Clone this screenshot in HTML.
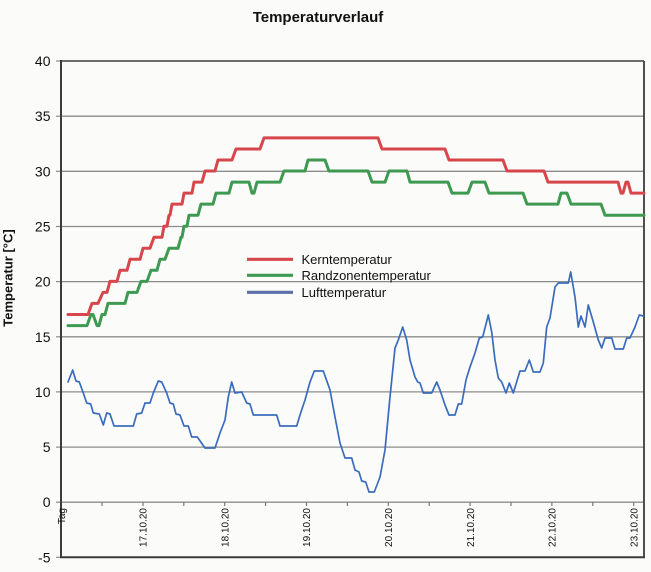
<!DOCTYPE html>
<html>
<head>
<meta charset="utf-8">
<style>
html,body{margin:0;padding:0;background:#fbfbfa;}
svg{display:block;}
text{font-family:"Liberation Sans",Arial,sans-serif;fill:#111;}
</style>
</head>
<body>
<svg width="651" height="572" viewBox="0 0 651 572" xmlns="http://www.w3.org/2000/svg">
<rect x="0" y="0" width="651" height="572" fill="#fbfbfa"/>
<!-- title -->
<text x="318" y="22" text-anchor="middle" font-size="15" font-weight="bold">Temperaturverlauf</text>
<!-- y axis label -->
<text transform="translate(12.5,278) rotate(-90)" text-anchor="middle" font-size="13" font-weight="bold">Temperatur [°C]</text>

<!-- grid lines -->
<g stroke="#8c8c8c" stroke-width="1.3">
<line x1="61" y1="116.2" x2="644" y2="116.2"/>
<line x1="61" y1="171.3" x2="644" y2="171.3"/>
<line x1="61" y1="226.5" x2="644" y2="226.5"/>
<line x1="61" y1="281.6" x2="644" y2="281.6"/>
<line x1="61" y1="336.8" x2="644" y2="336.8"/>
<line x1="61" y1="391.9" x2="644" y2="391.9"/>
<line x1="61" y1="447.1" x2="644" y2="447.1"/>
<line x1="61" y1="502.2" x2="644" y2="502.2"/>
</g>
<!-- y ticks -->
<g stroke="#8c8c8c" stroke-width="1.2">
<line x1="56" y1="61" x2="61" y2="61"/>
<line x1="56" y1="116.2" x2="61" y2="116.2"/>
<line x1="56" y1="171.3" x2="61" y2="171.3"/>
<line x1="56" y1="226.5" x2="61" y2="226.5"/>
<line x1="56" y1="281.6" x2="61" y2="281.6"/>
<line x1="56" y1="336.8" x2="61" y2="336.8"/>
<line x1="56" y1="391.9" x2="61" y2="391.9"/>
<line x1="56" y1="447.1" x2="61" y2="447.1"/>
<line x1="56" y1="502.2" x2="61" y2="502.2"/>
<line x1="56" y1="557.3" x2="61" y2="557.3"/>
</g>
<!-- x ticks -->
<g stroke="#777" stroke-width="1.2">
<line x1="61" y1="502" x2="61" y2="506"/>
<line x1="102" y1="502" x2="102" y2="506"/>
<line x1="143" y1="502" x2="143" y2="506"/>
<line x1="183.8" y1="502" x2="183.8" y2="506"/>
<line x1="224.7" y1="502" x2="224.7" y2="506"/>
<line x1="265.6" y1="502" x2="265.6" y2="506"/>
<line x1="306.5" y1="502" x2="306.5" y2="506"/>
<line x1="347.4" y1="502" x2="347.4" y2="506"/>
<line x1="388.3" y1="502" x2="388.3" y2="506"/>
<line x1="429.2" y1="502" x2="429.2" y2="506"/>
<line x1="470.1" y1="502" x2="470.1" y2="506"/>
<line x1="511" y1="502" x2="511" y2="506"/>
<line x1="551.9" y1="502" x2="551.9" y2="506"/>
<line x1="592.8" y1="502" x2="592.8" y2="506"/>
<line x1="633.7" y1="502" x2="633.7" y2="506"/>
</g>
<!-- frame -->
<g stroke="#3c3c3c" fill="none">
<line x1="61" y1="61" x2="644" y2="61" stroke-width="1.6"/>
<line x1="644" y1="61" x2="644" y2="557.3" stroke-width="1.8"/>
<line x1="61" y1="60" x2="61" y2="558" stroke-width="2"/>
<line x1="60" y1="557.3" x2="645" y2="557.3" stroke-width="2"/>
</g>

<!-- y tick labels -->
<g font-size="14" text-anchor="end">
<text x="50.5" y="66">40</text>
<text x="50.5" y="121.2">35</text>
<text x="50.5" y="176.3">30</text>
<text x="50.5" y="231.5">25</text>
<text x="50.5" y="286.6">20</text>
<text x="50.5" y="341.8">15</text>
<text x="50.5" y="396.9">10</text>
<text x="50.5" y="452.1">5</text>
<text x="50.5" y="507.2">0</text>
<text x="50.5" y="562.3">-5</text>
</g>
<!-- x labels -->
<g font-size="10" text-anchor="end">
<text transform="translate(65,508) rotate(-90)">Tag</text>
<text transform="translate(146.7,508) rotate(-90)">17.10.20</text>
<text transform="translate(228.4,508) rotate(-90)">18.10.20</text>
<text transform="translate(310.2,508) rotate(-90)">19.10.20</text>
<text transform="translate(392,508) rotate(-90)">20.10.20</text>
<text transform="translate(473.8,508) rotate(-90)">21.10.20</text>
<text transform="translate(555.6,508) rotate(-90)">22.10.20</text>
<text transform="translate(637.4,508) rotate(-90)">23.10.20</text>
</g>

<!-- series -->
<g fill="none" stroke-linejoin="round" stroke-linecap="round">
<polyline stroke="#d6464a" stroke-width="3" points="
68,314.5 88,314.5 92,303.4 98,303.4 103,292.4 107,292.4 110,281.4 117,281.4 120,270.3 127,270.3 130,259.3 140,259.3 143,248.3 150,248.3 154,237.2 162,237.2 164,226.2 167,226.2 169,215.2 170,215.2 172,204.1 182,204.1 184,193.1 192,193.1 194,182.1 202,182.1 205,171 215,171 218,160 232,160 236,149 260,149 264,137.9 378,137.9 382,149 445,149 449,160 503,160 507,171 544,171 548,182.1 618,182.1 621,193.1 623,193.1 626,182.1 628,182.1 631,193.1 644,193.1"/>
<polyline stroke="#3d9a50" stroke-width="3" points="
68,325.6 87,325.6 91,314.5 93,314.5 97,325.6 99,325.6 102,314.5 105,314.5 108,303.4 125,303.4 128,292.4 137,292.4 141,281.4 147,281.4 151,270.3 157,270.3 160,259.3 165,259.3 169,248.3 178,248.3 181,237.2 182,237.2 184,226.2 187,226.2 189,215.2 198,215.2 201,204.1 213,204.1 216,193.1 229,193.1 232,182.1 249,182.1 252,193.1 254,193.1 257,182.1 280,182.1 284,171 305,171 308,160 325,160 329,171 368,171 372,182.1 385,182.1 389,171 407,171 410,182.1 448,182.1 452,193.1 468,193.1 472,182.1 485,182.1 489,193.1 523,193.1 527,204.1 558,204.1 561,193.1 567,193.1 571,204.1 601,204.1 605,215.2 644,215.2"/>
<polyline stroke="#3a6cbd" stroke-width="1.7" points="
68,382 72.7,370 76,381 79.3,382 83.3,393 86.7,403 90.7,404 93.3,413 99.3,414 103.3,425 106.7,413 110,414 114,426 133.3,426 136.7,414 141.7,413 145,403 150,403 153.3,393 158.3,381 161.7,382 166.7,393 170,403 173.3,404 176,414 180,415 184,426 188.3,426 191.7,437 197.3,437 205,448 215,448 220,433 225,420 228.3,397 231.7,382 235,393 241.7,392 246.7,403 250,404 253.3,415 276.7,415 280,426 296.7,426 300,415 305,400 310,382 314.3,371 323.3,371 330,390 335,417 340,443 345,458 351.7,458 355,470 359,472 361.7,481 365.7,482 369,492 374.3,492 380,477 385,450 390,397 395,348 398.3,340 402.7,327 406.7,340 410,360 415,377 417.7,382 420,383 423.3,393 431.7,393 436.7,382 440,390 445,405 449,415 455,415 458.3,404 461.7,404 466,380 470,367 475,353 479.3,338 482.7,337 488.3,315 491.7,332 495,360 498.3,378 501.7,382 506,393 509.3,383 513.3,393 520,371 525,371 529.3,360 533.3,372 540,372 543.3,363 546.7,327 550,318 555,287 558.3,283 568.3,283 570.7,272 575,297 578.3,327 581,316 585,327 588.3,305 593.3,322 598.3,340 601.7,348 605,338 611.7,338 615,349 623.3,349 626.7,338 630,338 635,327 639.3,315 643.3,316"/>
</g>

<!-- legend -->
<g stroke-width="3.2" stroke-linecap="butt">
<line x1="247" y1="259.3" x2="293" y2="259.3" stroke="#d6464a"/>
<line x1="247" y1="275.3" x2="293" y2="275.3" stroke="#3d9a50"/>
<line x1="247" y1="292.3" x2="293" y2="292.3" stroke="#5a6ea8"/>
</g>
<g font-size="13">
<text x="301.5" y="263.8">Kerntemperatur</text>
<text x="301.5" y="279.8">Randzonentemperatur</text>
<text x="301.5" y="296.8">Lufttemperatur</text>
</g>
</svg>
</body>
</html>
